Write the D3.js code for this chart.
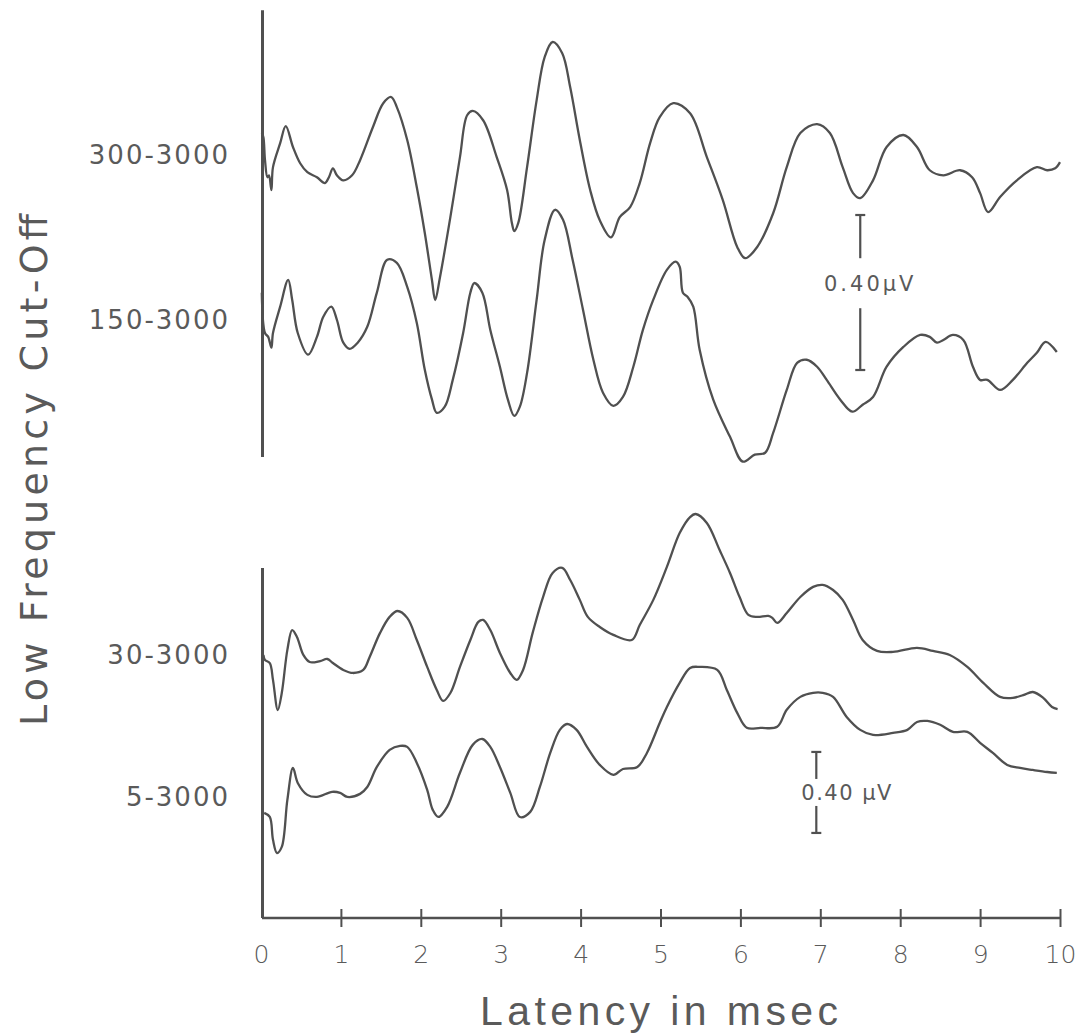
<!DOCTYPE html>
<html>
<head>
<meta charset="utf-8">
<script src="https://cdn.jsdelivr.net/npm/d3@7"></script>
<style>
  body { margin: 0; background: #fff; }
  text { fill: #5a5a5a; font-family: "DejaVu Sans", "Liberation Sans", sans-serif; }
</style>
</head>
<body>
<div id="chart"></div>
<script>
// Latency ticks (msec)
const latencyTicks = [0, 1, 2, 3, 4, 5, 6, 7, 8, 9, 10];

// Filter band labels
const bandLabels = ["300-3000", "150-3000", "30-3000", "5-3000"];

// Waveforms: [latency in msec, amplitude in µV relative to the trace baseline]
const trace300 = [
  [0.01, 0.057], [0.03, 0.046], [0.05, -0.013], [0.08, -0.057], [0.10, -0.052], [0.13, -0.090],
  [0.15, -0.031], [0.24, 0.031], [0.31, 0.075], [0.40, 0.021], [0.49, -0.021], [0.58, -0.044],
  [0.70, -0.057], [0.80, -0.072], [0.85, -0.057], [0.90, -0.034], [0.95, -0.052], [1.03, -0.065],
  [1.14, -0.052], [1.24, -0.013], [1.40, 0.072], [1.53, 0.134], [1.63, 0.150], [1.70, 0.124],
  [1.83, 0.039], [1.95, -0.083], [2.05, -0.201], [2.14, -0.323], [2.18, -0.374], [2.24, -0.315],
  [2.37, -0.160], [2.49, -0.005], [2.58, 0.103], [2.65, 0.114], [2.78, 0.090], [2.95, -0.005],
  [3.08, -0.090], [3.14, -0.175], [3.17, -0.196], [3.22, -0.175], [3.33, -0.031], [3.45, 0.142],
  [3.55, 0.253], [3.65, 0.292], [3.77, 0.263], [3.87, 0.175], [3.99, 0.039], [4.12, -0.090],
  [4.24, -0.168], [4.38, -0.212], [4.49, -0.160], [4.62, -0.134], [4.74, -0.072], [4.87, 0.031],
  [4.99, 0.098], [5.16, 0.134], [5.37, 0.108], [5.58, -0.005], [5.78, -0.116], [5.96, -0.237],
  [6.06, -0.266], [6.21, -0.237], [6.41, -0.150], [6.58, -0.031], [6.75, 0.057], [6.96, 0.080],
  [7.12, 0.057], [7.28, -0.031], [7.41, -0.098], [7.50, -0.111], [7.66, -0.065], [7.83, 0.021],
  [8.04, 0.052], [8.21, 0.021], [8.37, -0.039], [8.54, -0.052], [8.75, -0.039], [8.90, -0.057],
  [9.00, -0.098], [9.10, -0.147], [9.25, -0.108], [9.46, -0.065], [9.71, -0.031], [9.84, -0.039],
  [9.94, -0.034], [10.0, -0.018]
];

const trace150 = [
  [0.01, 0.070], [0.05, -0.034], [0.09, -0.044], [0.13, -0.072], [0.15, -0.034], [0.24, 0.034],
  [0.34, 0.103], [0.39, 0.052], [0.46, -0.034], [0.59, -0.090], [0.70, -0.044], [0.78, 0.008],
  [0.88, 0.034], [0.95, 0.000], [1.03, -0.059], [1.11, -0.075], [1.21, -0.059], [1.33, -0.018],
  [1.45, 0.070], [1.58, 0.155], [1.70, 0.147], [1.83, 0.085], [1.95, -0.008], [2.05, -0.129],
  [2.14, -0.206], [2.20, -0.240], [2.30, -0.224], [2.40, -0.155], [2.53, -0.034], [2.62, 0.070],
  [2.67, 0.095], [2.77, 0.070], [2.87, -0.026], [2.99, -0.121], [3.09, -0.206], [3.17, -0.248],
  [3.24, -0.224], [3.33, -0.137], [3.45, 0.052], [3.55, 0.206], [3.68, 0.284], [3.78, 0.258],
  [3.90, 0.155], [4.03, 0.026], [4.16, -0.103], [4.28, -0.188], [4.41, -0.222], [4.53, -0.199],
  [4.66, -0.121], [4.78, -0.026], [4.91, 0.052], [5.08, 0.129], [5.19, 0.150], [5.24, 0.137],
  [5.28, 0.070], [5.34, 0.059], [5.41, 0.034], [5.49, -0.077], [5.66, -0.206], [5.87, -0.302],
  [6.03, -0.366], [6.18, -0.348], [6.31, -0.343], [6.41, -0.292], [6.58, -0.181], [6.71, -0.111],
  [6.83, -0.103], [6.96, -0.121], [7.08, -0.155], [7.25, -0.206], [7.40, -0.237], [7.53, -0.219],
  [7.66, -0.199], [7.83, -0.121], [8.04, -0.070], [8.25, -0.039], [8.37, -0.044], [8.46, -0.059],
  [8.54, -0.052], [8.66, -0.039], [8.79, -0.052], [8.91, -0.121], [9.00, -0.155], [9.09, -0.155],
  [9.25, -0.181], [9.41, -0.155], [9.59, -0.111], [9.71, -0.085], [9.82, -0.057], [9.96, -0.083]
];

const trace30 = [
  [0.03, 0.000], [0.05, -0.025], [0.11, -0.040], [0.15, -0.123], [0.21, -0.272], [0.26, -0.188],
  [0.33, 0.025], [0.39, 0.123], [0.45, 0.089], [0.53, 0.000], [0.61, -0.035], [0.74, -0.030],
  [0.83, -0.020], [0.90, -0.040], [1.03, -0.074], [1.15, -0.089], [1.28, -0.074], [1.36, -0.010],
  [1.49, 0.109], [1.61, 0.188], [1.71, 0.217], [1.83, 0.183], [1.95, 0.074], [2.08, -0.059],
  [2.20, -0.173], [2.28, -0.227], [2.37, -0.188], [2.49, -0.059], [2.62, 0.074], [2.72, 0.163],
  [2.78, 0.173], [2.87, 0.123], [2.99, 0.010], [3.12, -0.089], [3.20, -0.123], [3.28, -0.074],
  [3.40, 0.109], [3.53, 0.286], [3.65, 0.405], [3.77, 0.430], [3.87, 0.370], [3.99, 0.272],
  [4.09, 0.188], [4.24, 0.138], [4.41, 0.099], [4.64, 0.074], [4.74, 0.148], [4.91, 0.272],
  [5.08, 0.435], [5.24, 0.602], [5.37, 0.681], [5.44, 0.696], [5.58, 0.652], [5.74, 0.518],
  [5.87, 0.405], [5.99, 0.286], [6.10, 0.198], [6.21, 0.188], [6.35, 0.193], [6.40, 0.183],
  [6.46, 0.158], [6.58, 0.207], [6.75, 0.286], [6.91, 0.336], [7.03, 0.346], [7.16, 0.321],
  [7.28, 0.272], [7.41, 0.173], [7.53, 0.074], [7.71, 0.020], [7.91, 0.015], [8.21, 0.035],
  [8.41, 0.020], [8.62, 0.000], [8.84, -0.059], [9.04, -0.138], [9.25, -0.207], [9.41, -0.212],
  [9.54, -0.198], [9.66, -0.183], [9.79, -0.212], [9.90, -0.257], [9.97, -0.267]
];

const trace5 = [
  [0.04, -0.079], [0.11, -0.099], [0.15, -0.212], [0.20, -0.277], [0.26, -0.247], [0.33, -0.015],
  [0.40, 0.143], [0.46, 0.069], [0.58, 0.010], [0.70, 0.000], [0.89, 0.025], [0.99, 0.020],
  [1.08, 0.000], [1.24, 0.015], [1.33, 0.049], [1.45, 0.148], [1.61, 0.232], [1.74, 0.252],
  [1.83, 0.247], [1.95, 0.168], [2.08, 0.035], [2.15, -0.064], [2.22, -0.099], [2.33, -0.049],
  [2.49, 0.119], [2.65, 0.257], [2.77, 0.286], [2.87, 0.247], [2.99, 0.148], [3.12, 0.020],
  [3.24, -0.099], [3.37, -0.074], [3.49, 0.049], [3.62, 0.217], [3.74, 0.331], [3.83, 0.360],
  [3.95, 0.331], [4.08, 0.247], [4.24, 0.158], [4.41, 0.109], [4.53, 0.138], [4.71, 0.148],
  [4.83, 0.217], [4.99, 0.365], [5.08, 0.444], [5.24, 0.563], [5.37, 0.637], [5.49, 0.642],
  [5.71, 0.627], [5.83, 0.528], [5.96, 0.415], [6.08, 0.341], [6.25, 0.341], [6.46, 0.346],
  [6.58, 0.430], [6.75, 0.494], [6.91, 0.514], [7.03, 0.514], [7.16, 0.494], [7.33, 0.395],
  [7.50, 0.331], [7.66, 0.306], [7.91, 0.316], [8.09, 0.331], [8.21, 0.370], [8.34, 0.375],
  [8.50, 0.356], [8.66, 0.321], [8.84, 0.321], [9.00, 0.267], [9.16, 0.217], [9.34, 0.158],
  [9.50, 0.143], [9.66, 0.133], [9.84, 0.123], [9.96, 0.119]
];

const traceData = [trace300, trace150, trace30, trace5];

// Calibration bars (µV)
const calibration = [0.40, 0.40];

// ---- layout ----
const W = 1091, H = 1036;
const ink = "#505050";

const svg = d3.select("#chart").append("svg")
  .attr("width", W).attr("height", H);

const x = d3.scaleLinear().domain([0, 10]).range([261, 1060]);

// Two panels, each with its own µV scale (see calibration bars)
const panels = [
  { y: d3.scaleLinear().domain([0, 0.40]).range([457, 302]), top: 1.153,
    bar: { t: 7.5, from: 0.2245, textAt: 0.44, halfGap: 25 } },
  { y: d3.scaleLinear().domain([0, 0.40]).range([918, 837]), top: 1.728,
    bar: { t: 6.95, from: 0.42, textAt: 0.5, halfGap: 13.5 } }
];

// baseline (µV above panel floor) for each trace
const traces = [
  { panel: 0, base: 0.779 },
  { panel: 0, base: 0.354 },
  { panel: 1, base: 1.299 },
  { panel: 1, base: 0.598 }
];

// Vertical panel lines
panels.forEach(p => {
  svg.append("line")
    .attr("x1", x(0) + 1.5).attr("x2", x(0) + 1.5)
    .attr("y1", p.y(0)).attr("y2", p.y(p.top))
    .attr("stroke", ink).attr("stroke-width", 3);
});

// Traces
traces.forEach((tr, i) => {
  const p = panels[tr.panel];
  const line = d3.line()
    .x(d => x(d[0]))
    .y(d => p.y(tr.base + d[1]))
    .curve(d3.curveCatmullRom.alpha(0.5));

  svg.append("path")
    .datum(traceData[i])
    .attr("d", line)
    .attr("fill", "none")
    .attr("stroke", ink)
    .attr("stroke-width", 2.3)
    .attr("stroke-linejoin", "round");

  svg.append("text")
    .attr("x", 230)
    .attr("y", p.y(tr.base))
    .attr("dy", "0.36em")
    .attr("text-anchor", "end")
    .style("font-size", "26px")
    .style("letter-spacing", "2px")
    .text(bandLabels[i]);
});

// Calibration bars with a gap for the text
panels.forEach((p, i) => {
  const b = p.bar;
  const bx = x(b.t);
  const y0 = p.y(b.from), y1 = p.y(b.from + calibration[i]);
  const mid = y1 + (y0 - y1) * b.textAt;
  const g = svg.append("g").attr("stroke", ink).attr("stroke-width", 2.2);
  g.append("line").attr("x1", bx).attr("x2", bx).attr("y1", y1).attr("y2", mid - b.halfGap);
  g.append("line").attr("x1", bx).attr("x2", bx).attr("y1", mid + b.halfGap).attr("y2", y0);
  g.append("line").attr("x1", bx - 5).attr("x2", bx + 5).attr("y1", y1).attr("y2", y1);
  g.append("line").attr("x1", bx - 5).attr("x2", bx + 5).attr("y1", y0).attr("y2", y0);

  const txt = svg.append("text")
    .attr("y", mid)
    .attr("dy", "0.36em")
    .style("font-size", "21px");
  if (i === 0) {
    txt.attr("x", bx + 10).attr("text-anchor", "middle")
      .style("letter-spacing", "3px")
      .text(calibration[i].toFixed(2) + "µV");
  } else {
    // the bar runs through the decimal point
    txt.attr("x", bx - 15).attr("text-anchor", "start")
      .style("letter-spacing", "1.5px")
      .text(calibration[i].toFixed(2) + " µV");
  }
});

// X axis
const xAxis = svg.append("g")
  .attr("transform", `translate(0, ${panels[1].y(0)})`)
  .call(d3.axisBottom(x).tickValues(latencyTicks).tickFormat(d3.format("d"))
    .tickSizeInner(9).tickSizeOuter(0).tickPadding(18));

xAxis.select(".domain").attr("stroke", ink).attr("stroke-width", 2.5)
  .attr("d", `M${x(0) + 1},0H${x(10)}`);
xAxis.selectAll(".tick line").attr("stroke", ink).attr("stroke-width", 2)
  .attr("y1", -9).attr("y2", 9);
xAxis.selectAll(".tick").filter(d => d === 0).select("line").remove();
xAxis.selectAll(".tick text")
  .style("font-size", "25px")
  .style("font-family", "'DejaVu Sans', sans-serif")
  .style("font-weight", "200")
  .attr("fill", "#5a5a5a");

// Axis titles
svg.append("text")
  .attr("x", 659).attr("y", 1025)
  .attr("text-anchor", "middle")
  .attr("textLength", 358).attr("lengthAdjust", "spacing")
  .style("font-family", "'Liberation Sans', Arial, sans-serif")
  .style("font-size", "41px")
  .text("Latency in msec");

svg.append("text")
  .attr("transform", "translate(47, 470) rotate(-90)")
  .attr("text-anchor", "middle")
  .attr("textLength", 512).attr("lengthAdjust", "spacing")
  .style("font-size", "38px")
  .text("Low Frequency Cut-Off");
</script>
</body>
</html>
